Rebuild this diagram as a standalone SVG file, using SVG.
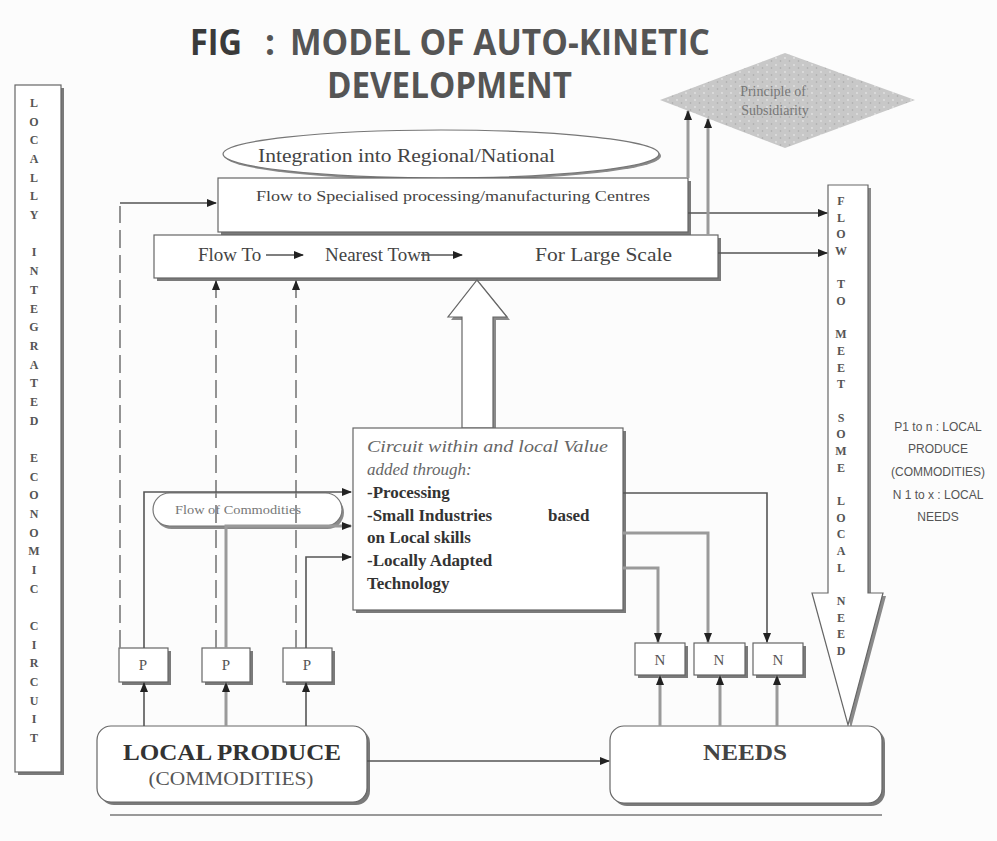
<svg xmlns="http://www.w3.org/2000/svg" width="997" height="841" viewBox="0 0 997 841">
<style>
.bx{fill:#fff;stroke:#666;stroke-width:1.2}
.sh{fill:#7a7a7a}
.ln{fill:none;stroke:#555;stroke-width:1.6}
.gl{fill:none;stroke:#9a9a9a;stroke-width:3}
.dl{fill:none;stroke:#888;stroke-width:1.8;stroke-dasharray:18 7}
.sf{font-family:"Liberation Serif","Times New Roman",serif}
.ss{font-family:"Liberation Sans",Arial,sans-serif}
.vt{font-family:"Liberation Serif","Times New Roman",serif;font-size:12px;font-weight:bold;fill:#555;text-anchor:middle}
</style>
<defs>
<marker id="ah" markerWidth="10" markerHeight="8" refX="9" refY="4" orient="auto" markerUnits="userSpaceOnUse"><path d="M0,0 L10,4 L0,8 z" fill="#222"/></marker>
<pattern id="speck" width="9" height="7" patternUnits="userSpaceOnUse">
<rect width="9" height="7" fill="#c8c8c8"/>
<circle cx="2" cy="2" r="0.9" fill="#e2e2e2"/>
<circle cx="6.5" cy="5" r="0.8" fill="#a8a8a8"/>
</pattern>
</defs>
<rect x="0" y="0" width="997" height="841" fill="#fcfcfc"/>

<g id="title" font-family="'Open Sans','DejaVu Sans',sans-serif" font-weight="bold" font-size="35" fill="#555">
<text x="190" y="55" fill="#3a3a3a" textLength="52" lengthAdjust="spacingAndGlyphs">FIG</text>
<text x="265" y="55">:</text>
<text x="290" y="55" textLength="420" lengthAdjust="spacingAndGlyphs">MODEL OF AUTO-KINETIC</text>
<text x="327" y="98" textLength="245" lengthAdjust="spacingAndGlyphs">DEVELOPMENT</text>
</g>

<g id="circuit-label">
<rect class="sh" x="18" y="88" width="46" height="687"/>
<rect class="bx" x="15" y="85" width="46" height="687"/>
<text class="vt" font-size="13"><tspan x="34" y="107">L</tspan><tspan x="34" y="125.7">O</tspan><tspan x="34" y="144.4">C</tspan><tspan x="34" y="163">A</tspan><tspan x="34" y="181.7">L</tspan><tspan x="34" y="200.4">L</tspan><tspan x="34" y="219.1">Y</tspan><tspan x="34" y="256.4">I</tspan><tspan x="34" y="275.1">N</tspan><tspan x="34" y="293.8">T</tspan><tspan x="34" y="312.5">E</tspan><tspan x="34" y="331.2">G</tspan><tspan x="34" y="349.8">R</tspan><tspan x="34" y="368.5">A</tspan><tspan x="34" y="387.2">T</tspan><tspan x="34" y="405.9">E</tspan><tspan x="34" y="424.6">D</tspan><tspan x="34" y="461.9">E</tspan><tspan x="34" y="480.6">C</tspan><tspan x="34" y="499.3">O</tspan><tspan x="34" y="518">N</tspan><tspan x="34" y="536.6">O</tspan><tspan x="34" y="555.3">M</tspan><tspan x="34" y="574">I</tspan><tspan x="34" y="592.7">C</tspan><tspan x="34" y="630">C</tspan><tspan x="34" y="648.7">I</tspan><tspan x="34" y="667.4">R</tspan><tspan x="34" y="686.1">C</tspan><tspan x="34" y="704.8">U</tspan><tspan x="34" y="723.4">I</tspan><tspan x="34" y="742.1">T</tspan></text>
</g>

<g id="integration">
<ellipse cx="443" cy="156" rx="218" ry="24" fill="#8a8a8a"/>
<ellipse cx="441" cy="154" rx="218" ry="24" fill="#fff" stroke="#777" stroke-width="1.2"/>
<text class="sf" x="258" y="162" font-size="18" fill="#444" textLength="297" lengthAdjust="spacingAndGlyphs">Integration into Regional/National</text>
</g>

<g id="specialised">
<rect class="sh" x="221" y="181" width="470" height="54"/>
<rect class="bx" x="218" y="178" width="470" height="54"/>
<text class="sf" x="256" y="201" font-size="14" fill="#444" textLength="394" lengthAdjust="spacingAndGlyphs">Flow to Specialised processing/manufacturing Centres</text>
</g>

<g id="nearest-town">
<rect class="sh" x="157" y="238" width="564" height="43"/>
<rect class="bx" x="154" y="235" width="564" height="43"/>
<text class="sf" x="198" y="261" font-size="19" fill="#444">Flow To</text>
<text class="sf" x="325" y="261" font-size="19" fill="#444">Nearest Town</text>
<text class="sf" x="535" y="261" font-size="19" fill="#444" textLength="137" lengthAdjust="spacingAndGlyphs">For Large Scale</text>
</g>

<g id="subsidiarity">
<polygon points="660,100 785,53 915,100 785,148" fill="url(#speck)"/>
<text class="sf" x="773" y="96" font-size="14" fill="#777" text-anchor="middle">Principle of</text>
<text class="sf" x="775" y="115" font-size="14" fill="#777" text-anchor="middle">Subsidiarity</text>
</g>

<g id="value-arrow">
<polygon points="465,431 465,320 451,320 480,283 510,320 496,320 496,431" fill="#8a8a8a"/>
<polygon points="462,428 462,317 448,317 477,280 507,317 493,317 493,428" fill="#fff" stroke="#666" stroke-width="1.2"/>
</g>

<g id="value-box">
<rect class="sh" x="356" y="431" width="270" height="182"/>
<rect class="bx" x="353" y="428" width="270" height="182"/>
<g class="sf" font-size="17">
<text x="367" y="452" font-style="italic" fill="#666" textLength="241" lengthAdjust="spacingAndGlyphs">Circuit within and local Value</text>
<text x="367" y="475" font-style="italic" fill="#666">added through:</text>
<g font-weight="bold" fill="#333">
<text x="367" y="498">-Processing</text>
<text x="367" y="521">-Small Industries</text>
<text x="548" y="521">based</text>
<text x="367" y="543">on Local skills</text>
<text x="367" y="566">-Locally Adapted</text>
<text x="367" y="589">Technology</text>
</g>
</g>
</g>

<g id="flow-commodities">
<rect x="155" y="496" width="189" height="33" rx="16.5" fill="#8a8a8a"/>
<rect x="153" y="493" width="189" height="33" rx="16.5" fill="#fff" stroke="#777" stroke-width="1.2"/>
<text class="sf" x="175" y="514" font-size="12" fill="#777" textLength="126" lengthAdjust="spacingAndGlyphs">Flow of Commodities</text>
</g>

<g id="flow-local-need">
<polygon points="831,188 871,188 871,596 886,596 851,728 815,596 831,596" fill="#8a8a8a"/>
<polygon points="828,185 868,185 868,593 883,593 848,725 812,593 828,593" fill="#fff" stroke="#666" stroke-width="1.2"/>
<text class="vt"><tspan x="841" y="205">F</tspan><tspan x="841" y="221.7">L</tspan><tspan x="841" y="238.3">O</tspan><tspan x="841" y="255">W</tspan><tspan x="841" y="288.3">T</tspan><tspan x="841" y="305">O</tspan><tspan x="841" y="338.3">M</tspan><tspan x="841" y="355">E</tspan><tspan x="841" y="371.7">E</tspan><tspan x="841" y="388.3">T</tspan><tspan x="841" y="421.7">S</tspan><tspan x="841" y="438.3">O</tspan><tspan x="841" y="455">M</tspan><tspan x="841" y="471.7">E</tspan><tspan x="841" y="505">L</tspan><tspan x="841" y="521.7">O</tspan><tspan x="841" y="538.3">C</tspan><tspan x="841" y="555">A</tspan><tspan x="841" y="571.7">L</tspan><tspan x="841" y="605">N</tspan><tspan x="841" y="621.7">E</tspan><tspan x="841" y="638.3">E</tspan><tspan x="841" y="655">D</tspan></text>
</g>

<g id="legend" class="ss" font-size="12" fill="#555" text-anchor="middle">
<text x="938" y="431">P1 to n : LOCAL</text>
<text x="938" y="453">PRODUCE</text>
<text x="938" y="476">(COMMODITIES)</text>
<text x="938" y="499">N 1 to x : LOCAL</text>
<text x="938" y="521">NEEDS</text>
</g>

<g id="p-boxes" class="sf" font-size="15" fill="#555" text-anchor="middle">
<g id="p1"><rect class="sh" x="122" y="651" width="49" height="34"/><rect class="bx" x="119" y="648" width="49" height="34"/><text x="143" y="670">P</text></g>
<g id="p2"><rect class="sh" x="205" y="651" width="48" height="34"/><rect class="bx" x="202" y="648" width="48" height="34"/><text x="226" y="670">P</text></g>
<g id="p3"><rect class="sh" x="286" y="651" width="49" height="34"/><rect class="bx" x="283" y="648" width="49" height="34"/><text x="307" y="670">P</text></g>
</g>

<g id="n-boxes" class="sf" font-size="15" fill="#555" text-anchor="middle">
<g id="n1"><rect class="sh" x="638" y="646" width="50" height="32"/><rect class="bx" x="635" y="643" width="50" height="32"/><text x="660" y="665">N</text></g>
<g id="n2"><rect class="sh" x="697" y="646" width="51" height="32"/><rect class="bx" x="694" y="643" width="51" height="32"/><text x="719" y="665">N</text></g>
<g id="n3"><rect class="sh" x="756" y="646" width="50" height="32"/><rect class="bx" x="753" y="643" width="50" height="32"/><text x="778" y="665">N</text></g>
</g>

<g id="local-produce">
<rect x="100" y="729" width="270" height="76" rx="14" fill="#7a7a7a"/>
<rect x="97" y="726" width="270" height="76" rx="14" fill="#fff" stroke="#666" stroke-width="1.2"/>
<text class="sf" x="232" y="760" font-size="24" font-weight="bold" fill="#333" text-anchor="middle" textLength="218" lengthAdjust="spacingAndGlyphs">LOCAL PRODUCE</text>
<text class="sf" x="231" y="785" font-size="18" fill="#555" text-anchor="middle" textLength="165" lengthAdjust="spacingAndGlyphs">(COMMODITIES)</text>
</g>

<g id="needs">
<rect x="613" y="729" width="272" height="77" rx="14" fill="#7a7a7a"/>
<rect x="610" y="726" width="272" height="77" rx="14" fill="#fff" stroke="#666" stroke-width="1.2"/>
<text class="sf" x="745" y="760" font-size="24" font-weight="bold" fill="#444" text-anchor="middle" textLength="84" lengthAdjust="spacingAndGlyphs">NEEDS</text>
</g>

<g id="connectors">
<path class="dl" d="M120,648 V206"/>
<path class="ln" d="M120,203 H216" marker-end="url(#ah)"/>
<path class="dl" d="M216,648 V281" marker-end="url(#ah)"/>
<path class="dl" d="M296,648 V281" marker-end="url(#ah)"/>
<path class="ln" d="M144,648 V492 H351" marker-end="url(#ah)"/>
<path class="gl" d="M226,648 V526 H351" marker-end="url(#ah)"/>
<path class="ln" d="M306,648 V557 H351" marker-end="url(#ah)"/>
<path class="ln" stroke-width="2" d="M144,726 V683" marker-end="url(#ah)"/>
<path class="gl" d="M226,726 V683" marker-end="url(#ah)"/>
<path class="ln" stroke-width="2" d="M306,726 V683" marker-end="url(#ah)"/>
<path class="ln" stroke-width="2" d="M367,761 H609" marker-end="url(#ah)"/>
<path class="ln" d="M623,493 H767 V642" marker-end="url(#ah)"/>
<path class="gl" d="M623,533 H708 V642" marker-end="url(#ah)"/>
<path class="gl" d="M623,568 H658 V642" marker-end="url(#ah)"/>
<path class="gl" d="M660,726 V676" marker-end="url(#ah)"/>
<path class="gl" d="M720,726 V676" marker-end="url(#ah)"/>
<path class="gl" d="M777,726 V676" marker-end="url(#ah)"/>
<path class="ln" stroke-width="2" d="M688,213 H827" marker-end="url(#ah)"/>
<path class="ln" stroke-width="2" d="M718,253 H827" marker-end="url(#ah)"/>
<path class="gl" d="M688,178 V111" marker-end="url(#ah)"/>
<path class="gl" d="M708,235 V119" marker-end="url(#ah)"/>
<path class="ln" d="M266,255 H303" marker-end="url(#ah)"/>
<path class="ln" d="M421,255 H462" marker-end="url(#ah)"/>
<path d="M110,815 H882" stroke="#999" stroke-width="2"/>
</g>
</svg>
